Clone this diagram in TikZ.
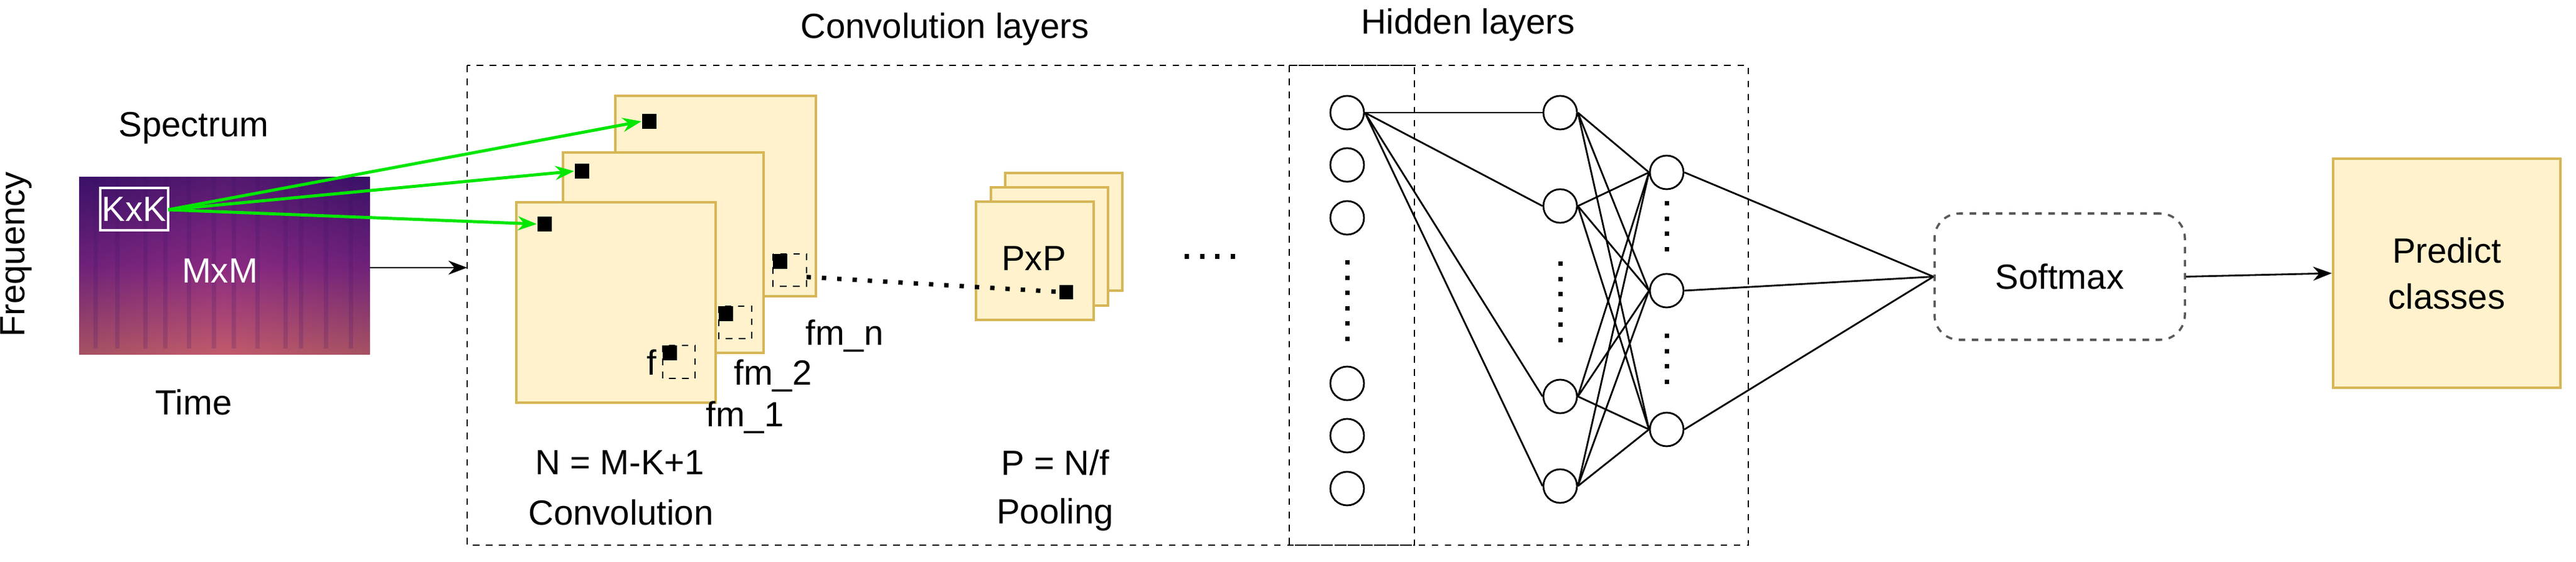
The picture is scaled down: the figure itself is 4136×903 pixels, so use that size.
\documentclass[tikz,border=0pt]{standalone}
\usepackage{fontspec}
\setmainfont{Liberation Sans}
\usetikzlibrary{arrows.meta}
\definecolor{fmfill}{HTML}{FFF2CC}
\definecolor{fmdraw}{HTML}{D6B656}
\definecolor{sp1}{HTML}{3A1168}
\definecolor{sp2}{HTML}{8A2A82}
\definecolor{sp3}{HTML}{E07560}
\begin{document}
\begin{tikzpicture}[x=0.1mm,y=-0.1mm,
  every node/.style={font=\fontsize{16}{19}\selectfont, inner sep=0pt},
  fm/.style={draw=fmdraw, fill=fmfill, line width=1.2pt},
  blk/.style={fill=black, draw=none},
  neu/.style={draw, circle, minimum size=5.4mm, line width=0.8pt},
  edge/.style={line width=0.8pt},
  box/.style={draw, dashed, line width=0.8pt},
  dots/.style={line width=2pt, dash pattern=on 2pt off 5pt},
  garrow/.style={draw={rgb,255:red,0;green,230;blue,0}, line width=1.4pt, -{Stealth[length=3mm]}}]
\useasboundingbox (0,0) rectangle (4136,903);
% spectrogram
\shade[top color=sp1, bottom color=sp3, middle color=sp2] (127,284) rectangle (594,569);
\shade[left color=sp1, right color=sp1, middle color=sp2, opacity=0.35] (127,284) rectangle (594,569);
\foreach \x in {150,185,230,262,300,340,372,410,455,480,520,560}
  \fill[sp1, opacity=0.18] (\x,284) rectangle (\x+7,560);
\node[draw=white, line width=1pt, minimum width=109*0.1mm, minimum height=68*0.1mm, text=white] (kxk) at (215.5,336) {KxK};
\node[text=white] (mxm) at (353,435) {MxM};
\node (spec) at (311,206) {Spectrum};
\node (time) at (311,646) {Time};
\node[rotate=90] (freq) at (26,409) {Frequency};
% big dashed boxes
\draw[box] (750,105) rectangle (2807,876);
\draw[box] (2070,105) rectangle (2271,876);
\node (convl) at (1517,47) {Convolution layers};
\node (hidl) at (2357,40) {Hidden layers};
\coordinate (specR) at (594,430);
\coordinate (boxL) at (750,430);
\draw[edge, -{Stealth[length=3mm]}] (specR) -- (boxL);
% feature maps
\draw[fm] (988,154) rectangle (1310,476);
\draw[fm] (904,245) rectangle (1226,567);
\draw[fm] (829,325) rectangle (1149,647);
\node[blk, minimum width=2.3mm, minimum height=2.4mm] (s3) at (1042,195) {};
\node[blk, minimum width=2.3mm, minimum height=2.4mm] (s2) at (934,275) {};
\node[blk, minimum width=2.3mm, minimum height=2.4mm] (s1) at (874,360) {};
\coordinate (kr) at (270,337);
\draw[garrow] (kr) -- (s3.west);
\draw[garrow] (kr) -- (s2.west);
\draw[garrow] (kr) -- (s1.west);
% pooling squares in maps
\draw[box, line width=0.6pt] (1064,555) rectangle (1116,608);
\fill (1064,555) rectangle (1087,579);
\draw[box, line width=0.6pt] (1154,492) rectangle (1207,544);
\fill (1154,492) rectangle (1177,516);
\draw[box, line width=0.6pt] (1241,408) rectangle (1295,460);
\fill (1241,408) rectangle (1264,432);
\node (f) at (1046,582) {f};
\node (fmn) at (1356,540) {fm\_n};
\node (fm2) at (1241,604) {fm\_2};
\node (fm1) at (1196,671) {fm\_1};
\node (neq) at (995,743) {N = M-K+1};
\node (conv) at (997,823) {Convolution};
% pooled maps
\draw[fm] (1614,278) rectangle (1802,467);
\draw[fm] (1591,301) rectangle (1779,491);
\draw[fm] (1567,324) rectangle (1756,514);
\node (pxp) at (1660,415) {PxP};
\node[blk, minimum width=2.2mm, minimum height=2.3mm] (ps) at (1712,469) {};
\coordinate (ds) at (1295,445);
\draw[dots] (ds) -- (ps.west);
\node (peq) at (1694,743) {P = N/f};
\node (pool) at (1694,827) {Pooling};
\coordinate (d1) at (1902,412); \coordinate (d2) at (1993,412);
\draw[dots] (d1) -- (d2);
% neurons
\foreach \i/\y in {1/181,2/265,3/350,4/616,5/700,6/785}
  \node[neu] (a\i) at (2163,\y) {};
\foreach \i/\y in {1/181,2/331,3/637,4/781}
  \node[neu] (b\i) at (2505,\y) {};
\foreach \i/\y in {1/277,2/467,3/690}
  \node[neu] (c\i) at (2676,\y) {};
\coordinate (da1) at (2163,418); \coordinate (da2) at (2163,556);
\coordinate (db1) at (2505,420); \coordinate (db2) at (2505,556);
\coordinate (dc1) at (2676,323); \coordinate (dc2) at (2676,406);
\coordinate (dc3) at (2676,536); \coordinate (dc4) at (2676,622);
\draw[dots] (da1) -- (da2);
\draw[dots] (db1) -- (db2);
\draw[dots] (dc1) -- (dc2);
\draw[dots] (dc3) -- (dc4);
\foreach \j in {1,...,4} \draw[edge] (a1.east) -- (b\j.west);
\foreach \j in {1,...,4} \foreach \k in {1,2,3} \draw[edge] (b\j.east) -- (c\k.west);
% softmax
\node[draw=black!65, dashed, rounded corners=4mm, line width=1pt, minimum width=40.2mm, minimum height=20.3mm] (soft) at (3307,444.5) {Softmax};
\foreach \k in {1,2,3} \draw[edge] (c\k.east) -- (soft.west);
\node[fm, minimum width=36.5mm, minimum height=36.8mm, align=center] (pred) at (3928.5,439) {Predict\\[2pt]classes};
\draw[edge, -{Stealth[length=3mm]}] (soft.east) -- (pred.west);
\end{tikzpicture}
\end{document}
